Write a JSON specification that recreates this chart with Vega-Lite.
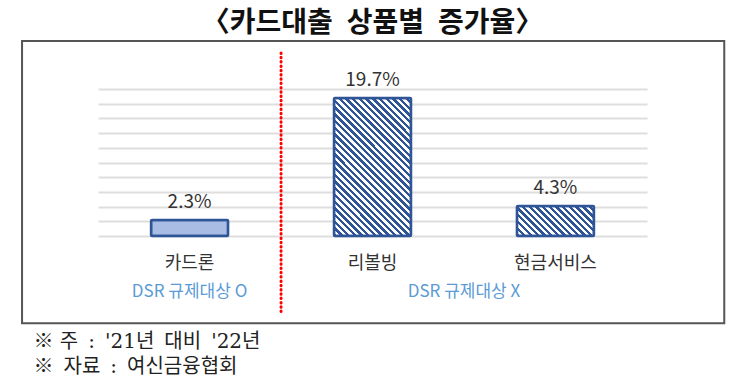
{
  "$schema": "https://vega.github.io/schema/vega-lite/v6.json",
  "width": 549,
  "height": 147,
  "autosize": {"type": "none"},
  "padding": {"left": 98, "top": 89, "right": 95, "bottom": 152},
  "background": "#ffffff",
  "config": {"view": {"stroke": null}, "font": "Noto Sans CJK KR"},
  "title": {"text": "〈카드대출\u2002상품별\u2002증가율〉", "fontSize": 28, "fontWeight": "bold", "color": "#111111", "anchor": "middle", "baseline": "bottom", "offset": -26, "font": "Noto Sans CJK KR"},
  "data": {"values": [
    {"상품": "카드론", "증가율": 0.023, "규제": "DSR 규제대상 O"},
    {"상품": "리볼빙", "증가율": 0.197, "규제": "DSR 규제대상 X"},
    {"상품": "현금서비스", "증가율": 0.043, "규제": "DSR 규제대상 X"}
  ]},
  "layer": [
    {
      "data": {"values": [{}]},
      "mark": {"type": "rect", "fillOpacity": 0, "stroke": "#555555", "strokeWidth": 2},
      "encoding": {
        "x": {"datum": "카드론", "type": "nominal", "bandPosition": -1.675, "scale": {"type": "band", "domain": ["카드론", "리볼빙", "현금서비스"], "paddingInner": 0.579, "paddingOuter": 0.29}},
        "x2": {"datum": "현금서비스", "bandPosition": 2.692},
        "y": {"datum": 0.2786, "type": "quantitative", "scale": {"domain": [0, 0.21], "nice": false, "zero": false}},
        "y2": {"datum": -0.1247}
      }
    },
    {
      "mark": {"type": "bar", "stroke": "#2f5597", "strokeWidth": 2.5, "cornerRadius": 1},
      "encoding": {
        "x": {"field": "상품", "type": "nominal", "sort": null,
          "scale": {"type": "band", "domain": ["카드론", "리볼빙", "현금서비스"], "paddingInner": 0.579, "paddingOuter": 0.29},
          "axis": {"title": ["※ 주\u2002:\u2002'21년\u2002대비\u2002'22년", "※\u2002자료\u2002:\u2002여신금융협회"], "labelFontSize": 18, "labelColor": "#333333", "labelPadding": 27, "labelAngle": 0, "labelAlign": "center", "labelBaseline": "middle", "ticks": false, "domain": false, "titleFontSize": 20, "titleFontWeight": "normal", "titleColor": "#222222", "titleAnchor": "start", "titleAlign": "left", "titleX": -65, "titleY": 111, "titleBaseline": "alphabetic", "titleLineHeight": 25, "titleFont": "DejaVu Serif, Noto Sans CJK KR"}},
        "y": {"field": "증가율", "type": "quantitative",
          "scale": {"domain": [0, 0.21], "nice": false, "zero": false},
          "axis": {"values": [0, 0.021, 0.042, 0.063, 0.084, 0.105, 0.126, 0.147, 0.168, 0.189, 0.21], "tickCount": 11, "labels": false, "ticks": false, "domain": false, "title": null, "grid": true, "gridColor": "#dedede", "gridWidth": 2}},
        "fill": {
          "condition": [
            {"test": "datum['상품'] === '리볼빙'", "value": {"gradient": "linear", "x1": 0, "y1": 1, "x2": 0.6647, "y2": -0.188, "stops": [
              {"offset": 0, "color": "#2f5597"}, {"offset": 0.015625, "color": "#2f5597"},
              {"offset": 0.015625, "color": "#ffffff"}, {"offset": 0.03125, "color": "#ffffff"},
              {"offset": 0.03125, "color": "#2f5597"}, {"offset": 0.046875, "color": "#2f5597"},
              {"offset": 0.046875, "color": "#ffffff"}, {"offset": 0.0625, "color": "#ffffff"},
              {"offset": 0.0625, "color": "#2f5597"}, {"offset": 0.078125, "color": "#2f5597"},
              {"offset": 0.078125, "color": "#ffffff"}, {"offset": 0.09375, "color": "#ffffff"},
              {"offset": 0.09375, "color": "#2f5597"}, {"offset": 0.109375, "color": "#2f5597"},
              {"offset": 0.109375, "color": "#ffffff"}, {"offset": 0.125, "color": "#ffffff"},
              {"offset": 0.125, "color": "#2f5597"}, {"offset": 0.140625, "color": "#2f5597"},
              {"offset": 0.140625, "color": "#ffffff"}, {"offset": 0.15625, "color": "#ffffff"},
              {"offset": 0.15625, "color": "#2f5597"}, {"offset": 0.171875, "color": "#2f5597"},
              {"offset": 0.171875, "color": "#ffffff"}, {"offset": 0.1875, "color": "#ffffff"},
              {"offset": 0.1875, "color": "#2f5597"}, {"offset": 0.203125, "color": "#2f5597"},
              {"offset": 0.203125, "color": "#ffffff"}, {"offset": 0.21875, "color": "#ffffff"},
              {"offset": 0.21875, "color": "#2f5597"}, {"offset": 0.234375, "color": "#2f5597"},
              {"offset": 0.234375, "color": "#ffffff"}, {"offset": 0.25, "color": "#ffffff"},
              {"offset": 0.25, "color": "#2f5597"}, {"offset": 0.265625, "color": "#2f5597"},
              {"offset": 0.265625, "color": "#ffffff"}, {"offset": 0.28125, "color": "#ffffff"},
              {"offset": 0.28125, "color": "#2f5597"}, {"offset": 0.296875, "color": "#2f5597"},
              {"offset": 0.296875, "color": "#ffffff"}, {"offset": 0.3125, "color": "#ffffff"},
              {"offset": 0.3125, "color": "#2f5597"}, {"offset": 0.328125, "color": "#2f5597"},
              {"offset": 0.328125, "color": "#ffffff"}, {"offset": 0.34375, "color": "#ffffff"},
              {"offset": 0.34375, "color": "#2f5597"}, {"offset": 0.359375, "color": "#2f5597"},
              {"offset": 0.359375, "color": "#ffffff"}, {"offset": 0.375, "color": "#ffffff"},
              {"offset": 0.375, "color": "#2f5597"}, {"offset": 0.390625, "color": "#2f5597"},
              {"offset": 0.390625, "color": "#ffffff"}, {"offset": 0.40625, "color": "#ffffff"},
              {"offset": 0.40625, "color": "#2f5597"}, {"offset": 0.421875, "color": "#2f5597"},
              {"offset": 0.421875, "color": "#ffffff"}, {"offset": 0.4375, "color": "#ffffff"},
              {"offset": 0.4375, "color": "#2f5597"}, {"offset": 0.453125, "color": "#2f5597"},
              {"offset": 0.453125, "color": "#ffffff"}, {"offset": 0.46875, "color": "#ffffff"},
              {"offset": 0.46875, "color": "#2f5597"}, {"offset": 0.484375, "color": "#2f5597"},
              {"offset": 0.484375, "color": "#ffffff"}, {"offset": 0.5, "color": "#ffffff"},
              {"offset": 0.5, "color": "#2f5597"}, {"offset": 0.515625, "color": "#2f5597"},
              {"offset": 0.515625, "color": "#ffffff"}, {"offset": 0.53125, "color": "#ffffff"},
              {"offset": 0.53125, "color": "#2f5597"}, {"offset": 0.546875, "color": "#2f5597"},
              {"offset": 0.546875, "color": "#ffffff"}, {"offset": 0.5625, "color": "#ffffff"},
              {"offset": 0.5625, "color": "#2f5597"}, {"offset": 0.578125, "color": "#2f5597"},
              {"offset": 0.578125, "color": "#ffffff"}, {"offset": 0.59375, "color": "#ffffff"},
              {"offset": 0.59375, "color": "#2f5597"}, {"offset": 0.609375, "color": "#2f5597"},
              {"offset": 0.609375, "color": "#ffffff"}, {"offset": 0.625, "color": "#ffffff"},
              {"offset": 0.625, "color": "#2f5597"}, {"offset": 0.640625, "color": "#2f5597"},
              {"offset": 0.640625, "color": "#ffffff"}, {"offset": 0.65625, "color": "#ffffff"},
              {"offset": 0.65625, "color": "#2f5597"}, {"offset": 0.671875, "color": "#2f5597"},
              {"offset": 0.671875, "color": "#ffffff"}, {"offset": 0.6875, "color": "#ffffff"},
              {"offset": 0.6875, "color": "#2f5597"}, {"offset": 0.703125, "color": "#2f5597"},
              {"offset": 0.703125, "color": "#ffffff"}, {"offset": 0.71875, "color": "#ffffff"},
              {"offset": 0.71875, "color": "#2f5597"}, {"offset": 0.734375, "color": "#2f5597"},
              {"offset": 0.734375, "color": "#ffffff"}, {"offset": 0.75, "color": "#ffffff"},
              {"offset": 0.75, "color": "#2f5597"}, {"offset": 0.765625, "color": "#2f5597"},
              {"offset": 0.765625, "color": "#ffffff"}, {"offset": 0.78125, "color": "#ffffff"},
              {"offset": 0.78125, "color": "#2f5597"}, {"offset": 0.796875, "color": "#2f5597"},
              {"offset": 0.796875, "color": "#ffffff"}, {"offset": 0.8125, "color": "#ffffff"},
              {"offset": 0.8125, "color": "#2f5597"}, {"offset": 0.828125, "color": "#2f5597"},
              {"offset": 0.828125, "color": "#ffffff"}, {"offset": 0.84375, "color": "#ffffff"},
              {"offset": 0.84375, "color": "#2f5597"}, {"offset": 0.859375, "color": "#2f5597"},
              {"offset": 0.859375, "color": "#ffffff"}, {"offset": 0.875, "color": "#ffffff"},
              {"offset": 0.875, "color": "#2f5597"}, {"offset": 0.890625, "color": "#2f5597"},
              {"offset": 0.890625, "color": "#ffffff"}, {"offset": 0.90625, "color": "#ffffff"},
              {"offset": 0.90625, "color": "#2f5597"}, {"offset": 0.921875, "color": "#2f5597"},
              {"offset": 0.921875, "color": "#ffffff"}, {"offset": 0.9375, "color": "#ffffff"},
              {"offset": 0.9375, "color": "#2f5597"}, {"offset": 0.953125, "color": "#2f5597"},
              {"offset": 0.953125, "color": "#ffffff"}, {"offset": 0.96875, "color": "#ffffff"},
              {"offset": 0.96875, "color": "#2f5597"}, {"offset": 0.984375, "color": "#2f5597"},
              {"offset": 0.984375, "color": "#ffffff"}, {"offset": 1, "color": "#ffffff"}
            ]}},
            {"test": "datum['상품'] === '현금서비스'", "value": {"gradient": "linear", "x1": 0, "y1": 1, "x2": 1.2066, "y2": 0.5294, "stops": [
              {"offset": 0, "color": "#2f5597"}, {"offset": 0.03125, "color": "#2f5597"},
              {"offset": 0.03125, "color": "#ffffff"}, {"offset": 0.0625, "color": "#ffffff"},
              {"offset": 0.0625, "color": "#2f5597"}, {"offset": 0.09375, "color": "#2f5597"},
              {"offset": 0.09375, "color": "#ffffff"}, {"offset": 0.125, "color": "#ffffff"},
              {"offset": 0.125, "color": "#2f5597"}, {"offset": 0.15625, "color": "#2f5597"},
              {"offset": 0.15625, "color": "#ffffff"}, {"offset": 0.1875, "color": "#ffffff"},
              {"offset": 0.1875, "color": "#2f5597"}, {"offset": 0.21875, "color": "#2f5597"},
              {"offset": 0.21875, "color": "#ffffff"}, {"offset": 0.25, "color": "#ffffff"},
              {"offset": 0.25, "color": "#2f5597"}, {"offset": 0.28125, "color": "#2f5597"},
              {"offset": 0.28125, "color": "#ffffff"}, {"offset": 0.3125, "color": "#ffffff"},
              {"offset": 0.3125, "color": "#2f5597"}, {"offset": 0.34375, "color": "#2f5597"},
              {"offset": 0.34375, "color": "#ffffff"}, {"offset": 0.375, "color": "#ffffff"},
              {"offset": 0.375, "color": "#2f5597"}, {"offset": 0.40625, "color": "#2f5597"},
              {"offset": 0.40625, "color": "#ffffff"}, {"offset": 0.4375, "color": "#ffffff"},
              {"offset": 0.4375, "color": "#2f5597"}, {"offset": 0.46875, "color": "#2f5597"},
              {"offset": 0.46875, "color": "#ffffff"}, {"offset": 0.5, "color": "#ffffff"},
              {"offset": 0.5, "color": "#2f5597"}, {"offset": 0.53125, "color": "#2f5597"},
              {"offset": 0.53125, "color": "#ffffff"}, {"offset": 0.5625, "color": "#ffffff"},
              {"offset": 0.5625, "color": "#2f5597"}, {"offset": 0.59375, "color": "#2f5597"},
              {"offset": 0.59375, "color": "#ffffff"}, {"offset": 0.625, "color": "#ffffff"},
              {"offset": 0.625, "color": "#2f5597"}, {"offset": 0.65625, "color": "#2f5597"},
              {"offset": 0.65625, "color": "#ffffff"}, {"offset": 0.6875, "color": "#ffffff"},
              {"offset": 0.6875, "color": "#2f5597"}, {"offset": 0.71875, "color": "#2f5597"},
              {"offset": 0.71875, "color": "#ffffff"}, {"offset": 0.75, "color": "#ffffff"},
              {"offset": 0.75, "color": "#2f5597"}, {"offset": 0.78125, "color": "#2f5597"},
              {"offset": 0.78125, "color": "#ffffff"}, {"offset": 0.8125, "color": "#ffffff"},
              {"offset": 0.8125, "color": "#2f5597"}, {"offset": 0.84375, "color": "#2f5597"},
              {"offset": 0.84375, "color": "#ffffff"}, {"offset": 0.875, "color": "#ffffff"},
              {"offset": 0.875, "color": "#2f5597"}, {"offset": 0.90625, "color": "#2f5597"},
              {"offset": 0.90625, "color": "#ffffff"}, {"offset": 0.9375, "color": "#ffffff"},
              {"offset": 0.9375, "color": "#2f5597"}, {"offset": 0.96875, "color": "#2f5597"},
              {"offset": 0.96875, "color": "#ffffff"}, {"offset": 1, "color": "#ffffff"}
            ]}}
          ],
          "value": "#a9bce3"
        }
      }
    },
    {
      "data": {"values": [{}]},
      "mark": {"type": "rule", "stroke": "#ff0000", "strokeWidth": 3, "strokeDash": [0.5, 3.8], "strokeCap": "round"},
      "encoding": {
        "x": {"datum": "카드론", "type": "nominal", "bandPosition": 1.688, "scale": {"type": "band", "domain": ["카드론", "리볼빙", "현금서비스"], "paddingInner": 0.579, "paddingOuter": 0.29}},
        "y": {"datum": 0.2614, "type": "quantitative", "scale": {"domain": [0, 0.21], "nice": false, "zero": false}},
        "y2": {"datum": -0.11}
      }
    },
    {
      "mark": {"type": "text", "fontSize": 19, "color": "#333333", "baseline": "alphabetic", "dy": -12},
      "encoding": {
        "x": {"field": "상품", "type": "nominal", "sort": null, "scale": {"type": "band", "domain": ["카드론", "리볼빙", "현금서비스"], "paddingInner": 0.579, "paddingOuter": 0.29}},
        "y": {"field": "증가율", "type": "quantitative", "scale": {"domain": [0, 0.21], "nice": false, "zero": false}},
        "text": {"field": "증가율", "type": "quantitative", "format": ".1%"}
      }
    },
    {
      "transform": [{"filter": "datum['상품'] === '카드론'"}],
      "mark": {"type": "text", "fontSize": 17, "color": "#5b9bd5", "baseline": "middle"},
      "encoding": {
        "x": {"field": "상품", "type": "nominal", "sort": null, "scale": {"type": "band", "domain": ["카드론", "리볼빙", "현금서비스"], "paddingInner": 0.579, "paddingOuter": 0.29}},
        "y": {"datum": -0.0807, "type": "quantitative", "scale": {"domain": [0, 0.21], "nice": false, "zero": false}},
        "text": {"field": "규제", "type": "nominal"}
      }
    },
    {
      "transform": [{"filter": "datum['상품'] === '리볼빙'"}],
      "mark": {"type": "text", "fontSize": 17, "color": "#5b9bd5", "baseline": "middle"},
      "encoding": {
        "x": {"field": "상품", "type": "nominal", "sort": null, "bandPosition": 1.688, "scale": {"type": "band", "domain": ["카드론", "리볼빙", "현금서비스"], "paddingInner": 0.579, "paddingOuter": 0.29}},
        "y": {"datum": -0.0807, "type": "quantitative", "scale": {"domain": [0, 0.21], "nice": false, "zero": false}},
        "text": {"field": "규제", "type": "nominal"}
      }
    }
  ]
}
